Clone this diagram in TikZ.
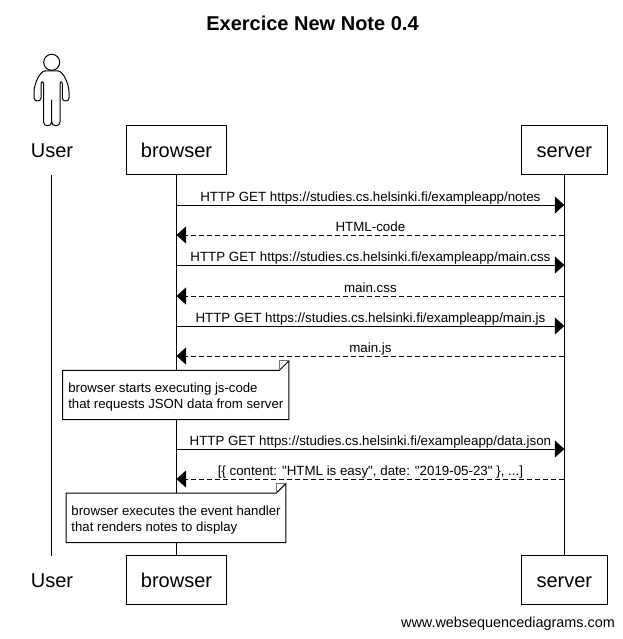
\documentclass[tikz,border=0pt]{standalone}
\usepackage{fontspec}
\setmainfont{Liberation Sans}
\newfontfamily\labelfont{Liberation Sans}
\usetikzlibrary{arrows.meta,positioning,calc}

\begin{document}
\begin{tikzpicture}[
    x=1pt, y=-1pt,
    actorbox/.style={rectangle, draw=black, fill=white, line width=1pt,
                  minimum height=49pt, inner sep=0pt, text height=14.5pt, text depth=0pt,
                  font=\fontsize{20}{24}\selectfont},
    actorname/.style={inner sep=0pt, text height=14.5pt, text depth=0pt, font=\fontsize{20}{24}\selectfont},
    lifeline/.style={draw, line width=1pt},
    request/.style={draw, line width=1pt, -{Triangle[length=9.5pt,width=17pt]}},
    reply/.style={request, dash pattern=on 5pt off 3pt},
    msg/.style={above=0pt, inner sep=0pt, text height=10pt, text depth=3pt, font=\labelfont\fontsize{13.33}{16}\selectfont},
    notebox/.style={rectangle, fill=white, inner xsep=5.5pt, inner ysep=0pt, minimum height=49pt,
                  align=left, font=\labelfont\fontsize{13.2}{16}\selectfont}
]
    \useasboundingbox (0,0) rectangle (622,639);

    \node [inner sep=0pt, font=\fontsize{20}{24}\selectfont\bfseries] (title) at (312.5,23) {Exercice New Note 0.4};

    % top row
    \node [actorname] (userT) at (52,150) {User};
    \node [actorbox, minimum width=100pt] (browserT) at (176.5,149.8) {browser};
    \node [actorbox, minimum width=86pt] (serverT)  at (564.3,149.8) {server};

    % bottom row
    \node [actorname] (userB) at (52,580) {User};
    \node [actorbox, minimum width=100pt] (browserB) at (176.5,579.8) {browser};
    \node [actorbox, minimum width=86pt] (serverB)  at (564.3,579.8) {server};

    \coordinate (userTop) at (51.5,175);
    \coordinate (userEnd) at (51.5,556);
    \path [lifeline] (userTop) -- (userEnd);
    \path [lifeline] (browserT) -- (browserB);
    \path [lifeline] (serverT)  -- (serverB);

    % stick figure
    \draw [line width=1pt] (51.7,62.3) circle (8);
    \draw [line width=1pt, line join=round]
        (51.7,71) -- (45,71) .. controls (40,71) and (34,84) .. (34,92)
        -- (34,98) .. controls (34,102) and (41,102) .. (41,98)
        -- (41,84) .. controls (41,81) and (43.5,81) .. (43.5,84)
        -- (43.5,122) .. controls (43.5,127) and (51.7,127) .. (51.7,122)
        -- (51.7,100) -- (51.7,122) .. controls (51.7,127) and (60,127) .. (60,122)
        -- (60,84) .. controls (60,81) and (62.3,81) .. (62.3,84)
        -- (62.3,98) .. controls (62.3,102) and (69,102) .. (69,98)
        -- (69,92) .. controls (69,84) and (63,71) .. (58,71) -- cycle;

    % messages
    \coordinate (b1) at (176.5,205); \coordinate (s1) at (564.3,205);
    \coordinate (b2) at (176.5,235); \coordinate (s2) at (564.3,235);
    \coordinate (b3) at (176.5,265); \coordinate (s3) at (564.3,265);
    \coordinate (b4) at (176.5,296); \coordinate (s4) at (564.3,296);
    \coordinate (b5) at (176.5,326); \coordinate (s5) at (564.3,326);
    \coordinate (b6) at (176.5,356); \coordinate (s6) at (564.3,356);
    \coordinate (b7) at (176.5,449); \coordinate (s7) at (564.3,449);
    \coordinate (b8) at (176.5,479); \coordinate (s8) at (564.3,479);

    \path [request] (b1) -- node [msg] {HTTP GET https://studies.cs.helsinki.fi/exampleapp/notes} (s1);
    \path [reply]   (s2) -- node [msg] {HTML-code} (b2);
    \path [request] (b3) -- node [msg] {HTTP GET https://studies.cs.helsinki.fi/exampleapp/main.css} (s3);
    \path [reply]   (s4) -- node [msg] {main.css} (b4);
    \path [request] (b5) -- node [msg] {HTTP GET https://studies.cs.helsinki.fi/exampleapp/main.js} (s5);
    \path [reply]   (s6) -- node [msg] {main.js} (b6);
    \path [request] (b7) -- node [msg] {HTTP GET https://studies.cs.helsinki.fi/exampleapp/data.json} (s7);
    \path [reply]   (s8) -- node [msg] {[\{ content: "HTML is easy", date: "2019-05-23" \}, ...]} (b8);

    % notes
    \node [notebox] (note1) at (175.8,395) {\rule{0pt}{14pt}browser starts executing js-code\\that requests JSON data from server};
    \node [notebox, inner xsep=5pt] (note2) at (176,517.8) {\rule{0pt}{14pt}browser executes the event handler\\that renders notes to display};
    \foreach \n in {note1,note2} {
        \draw [line width=1pt, line join=miter]
            (\n.north west) -- ([xshift=-9.5pt]\n.north east) -- ([yshift=9.5pt]\n.north east)
            -- (\n.south east) -- (\n.south west) -- cycle;
        \draw [line width=1pt, black!55] ([xshift=-9.5pt]\n.north east) -- ([xshift=-9.5pt,yshift=9.5pt]\n.north east) -- ([yshift=9.5pt]\n.north east);
    }

    \node [inner sep=0pt, font=\fontsize{14.4}{16}\selectfont] (credit) at (508,624) {www.websequencediagrams.com};
\end{tikzpicture}
\end{document}
